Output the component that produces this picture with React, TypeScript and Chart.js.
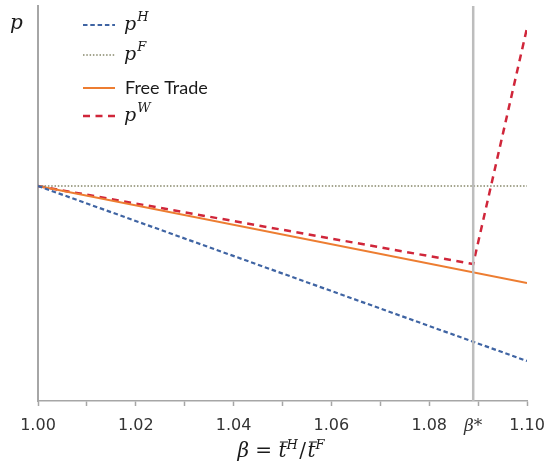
import { useEffect, useRef } from "react";
import { Chart, registerables } from "chart.js";

Chart.register(...registerables);

// ---- data ----
const BETA_STAR = 1.089;
const xTicks = [1.0, 1.01, 1.02, 1.03, 1.04, 1.05, 1.06, 1.07, 1.08, 1.09, 1.1];
const xTickLabels = ["1.00", "", "1.02", "", "1.04", "", "1.06", "", "1.08", "", "1.10"];
const betaStarLabel = "β*";

const pHX = [1.0, 1.1];
const pHY = [1.0, 0.825];
const pFX = [1.0, 1.1];
const pFY = [1.0, 1.0];
const freeTradeX = [1.0, 1.1];
const freeTradeY = [1.0, 0.903];
const pWX = [1.0, BETA_STAR, 1.1];
const pWY = [1.0, 0.922, 1.158];

const Y_MIN = 0.785;
const Y_MAX = 1.18;

// legend entries: [base text, superscript]
const legendBase = ["p", "p", "Free Trade", "p"];
const legendSup = ["H", "F", "", "W"];

const zip = (xs: number[], ys: number[]) => xs.map((x, i) => ({ x, y: ys[i] }));
const isBeta = (v: number) => Math.abs(v - BETA_STAR) < 1e-9;

const SERIF = '"DejaVu Serif"';

const textPlugin = {
  id: "textPlugin",
  afterDraw(chart: any) {
    const ctx: CanvasRenderingContext2D = chart.ctx;
    ctx.save();
    ctx.fillStyle = "#1a1a1a";
    ctx.textBaseline = "alphabetic";
    ctx.textAlign = "left";

    // y-axis title
    ctx.font = `italic 20px ${SERIF}`;
    ctx.fillText("p", 10, 29);

    // legend
    const rows = [25, 55, 88, 116];
    const legendDs = [1, 2, 3, 4]; // dataset indices: pH, pF, Free Trade, pW
    legendDs.forEach((dsIndex, i) => {
      const ds = chart.data.datasets[dsIndex];
      const y = rows[i];
      ctx.save();
      ctx.strokeStyle = ds.borderColor;
      ctx.lineWidth = ds.borderWidth;
      ctx.setLineDash(ds.borderDash || []);
      ctx.beginPath();
      ctx.moveTo(83, y);
      ctx.lineTo(115, y);
      ctx.stroke();
      ctx.restore();
      const base = legendBase[i];
      const sup = legendSup[i];
      if (sup) {
        ctx.font = `italic 19px ${SERIF}`;
        ctx.fillText(base, 124, y + 5);
        const w = ctx.measureText(base).width;
        ctx.font = `italic 13px ${SERIF}`;
        ctx.fillText(sup, 124 + w + 1, y - 4);
      } else {
        ctx.font = `18px Lato`;
        ctx.fillText(base, 125, y + 6);
      }
    });

    // x-axis title: β = t̄^H / t̄^F
    type Seg = { t: string; font: string; dy: number; bar?: boolean; gap?: number };
    const segs: Seg[] = [
      { t: "β", font: `italic 20px ${SERIF}`, dy: 0 },
      { t: " = ", font: `20px ${SERIF}`, dy: 0 },
      { t: "t", font: `italic 20px ${SERIF}`, dy: 0, bar: true },
      { t: "H", font: `italic 13px ${SERIF}`, dy: -8 },
      { t: "/", font: `20px ${SERIF}`, dy: 0, gap: 1.5 },
      { t: "t", font: `italic 20px ${SERIF}`, dy: 0, bar: true },
      { t: "F", font: `italic 13px ${SERIF}`, dy: -8 },
    ];
    let total = 0;
    const widths = segs.map((s) => {
      ctx.font = s.font;
      const w = ctx.measureText(s.t).width + (s.gap || 0) * 2;
      total += w;
      return w;
    });
    let x = 281 - total / 2;
    const baseY = 457;
    segs.forEach((s, i) => {
      ctx.font = s.font;
      ctx.fillText(s.t, x + (s.gap || 0), baseY + s.dy);
      if (s.bar) {
        ctx.save();
        ctx.strokeStyle = "#1a1a1a";
        ctx.lineWidth = 1;
        ctx.beginPath();
        ctx.moveTo(x + 1.5, baseY - 15);
        ctx.lineTo(x + widths[i] + 1.5, baseY - 15);
        ctx.stroke();
        ctx.restore();
      }
      x += widths[i];
    });

    ctx.restore();
  },
};

export default function App() {
  const ref = useRef<HTMLCanvasElement | null>(null);

  useEffect(() => {
    document.body.style.margin = "0";
    if (!ref.current) return;
    const chart = new Chart(ref.current, {
      type: "line",
      data: {
        datasets: [
          {
            label: "beta*",
            data: [
              { x: BETA_STAR, y: Y_MIN },
              { x: BETA_STAR, y: Y_MAX },
            ],
            borderColor: "#bdbdbd",
            borderWidth: 2.5,
            pointRadius: 0,
          },
          {
            label: "pH",
            data: zip(pHX, pHY),
            borderColor: "#3f64a3",
            borderWidth: 2.2,
            borderDash: [4.5, 2.8],
            pointRadius: 0,
          },
          {
            label: "pF",
            data: zip(pFX, pFY),
            borderColor: "#86876a",
            borderWidth: 1.6,
            borderDash: [1.5, 1.8],
            pointRadius: 0,
          },
          {
            label: "Free Trade",
            data: zip(freeTradeX, freeTradeY),
            borderColor: "#ed7d31",
            borderWidth: 2,
            pointRadius: 0,
          },
          {
            label: "pW",
            data: zip(pWX, pWY),
            borderColor: "#d0263a",
            borderWidth: 2.5,
            borderDash: [7, 5.5],
            pointRadius: 0,
          },
        ],
      },
      options: {
        responsive: false,
        animation: false,
        devicePixelRatio: 1,
        layout: { padding: { top: 6, right: 18, left: 0, bottom: 0 } },
        plugins: {
          legend: { display: false },
          tooltip: { enabled: false },
        },
        elements: { line: { tension: 0 } },
        scales: {
          x: {
            type: "linear",
            min: 1.0,
            max: 1.1,
            afterFit: (scale: any) => {
              scale.height = 67;
              scale.paddingLeft = 0;
              scale.paddingRight = 0;
            },
            afterBuildTicks: (scale: any) => {
              const vals = [...xTicks, BETA_STAR].sort((a, b) => a - b);
              scale.ticks = vals.map((v) => ({ value: v }));
            },
            border: { display: true, color: "#a6a6a6", width: 1.5 },
            grid: {
              drawOnChartArea: false,
              drawTicks: true,
              tickLength: 5,
              tickWidth: 1.5,
              tickColor: (c: any) =>
                c.tick && isBeta(c.tick.value) ? "rgba(0,0,0,0)" : "#a6a6a6",
            },
            ticks: {
              autoSkip: false,
              maxRotation: 0,
              padding: 10,
              color: "#333333",
              font: (c: any) =>
                c.tick && isBeta(c.tick.value)
                  ? { family: "DejaVu Serif", style: "italic", size: 17 }
                  : { family: "DejaVu Sans", size: 16 },
              callback: (value: any) => {
                const v = Number(value);
                if (isBeta(v)) return betaStarLabel;
                const i = xTicks.findIndex((t) => Math.abs(t - v) < 1e-9);
                return i >= 0 ? xTickLabels[i] : "";
              },
            },
          },
          y: {
            type: "linear",
            min: Y_MIN,
            max: Y_MAX,
            afterFit: (scale: any) => {
              scale.width = 38;
            },
            border: { display: true, color: "#a6a6a6", width: 2 },
            grid: { display: false },
            ticks: { display: false },
          },
        },
      },
      plugins: [textPlugin],
    } as any);
    return () => chart.destroy();
  }, []);

  return (
    <div style={{ width: 545, height: 468 }}>
      <canvas ref={ref} width={545} height={468} />
    </div>
  );
}
